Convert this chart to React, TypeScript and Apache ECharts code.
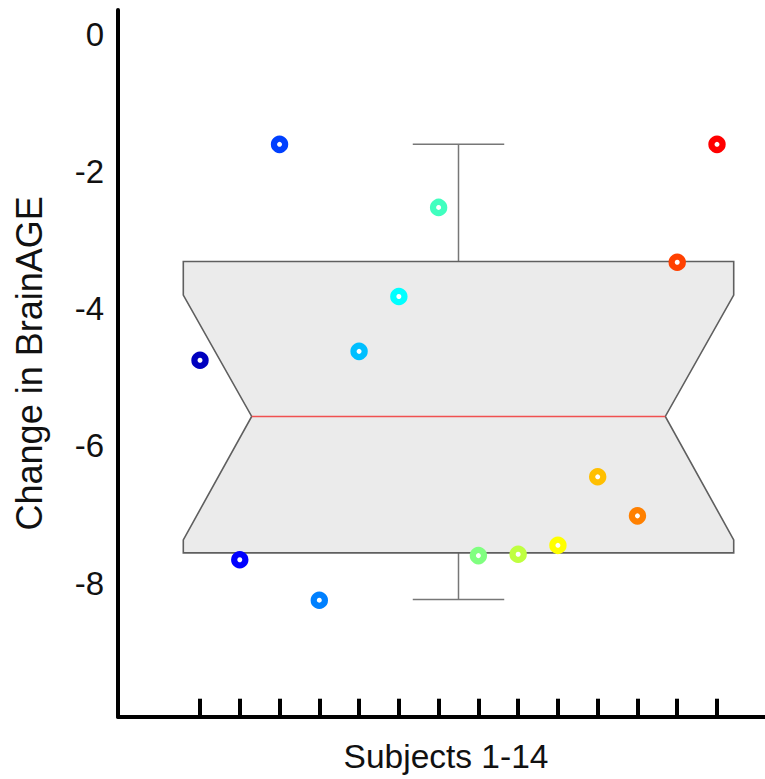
import React, { useEffect, useRef } from "react";
import * as echarts from "echarts";

const subjects = [1, 2, 3, 4, 5, 6, 7, 8, 9, 10, 11, 12, 13, 14];
const changeValues = [-4.75, -7.66, -1.6, -8.25, -4.62, -3.82, -2.52, -7.6, -7.58, -7.45, -6.45, -7.02, -3.32, -1.6];
const subjectColors = [
  "#0000bf", "#0000ff", "#0040ff", "#0080ff", "#00bfff", "#00ffff", "#40ffbf",
  "#80ff80", "#bfff40", "#ffff00", "#ffbf00", "#ff8000", "#ff4000", "#ff0000",
];
const yTickValues = [0, -2, -4, -6, -8];
// [center, whiskerLow, q1, notchLow, median, notchHigh, q3, whiskerHigh]
const boxValues = [7.5, -8.24, -7.56, -7.37, -5.57, -3.8, -3.31, -1.6];

const BOX_HALF = 6.92;
const NOTCH_HALF = 5.2;
const CAP_HALF = 1.15;

export default function App() {
  const ref = useRef<HTMLDivElement>(null);
  useEffect(() => {
    if (!ref.current) return;
    const chart = echarts.init(ref.current, null, { renderer: "svg" });
    const font = "'Liberation Sans', Arial, sans-serif";
    chart.setOption({
      animation: false,
      backgroundColor: "#ffffff",
      grid: {
        left: 118,
        right: 0,
        top: 10,
        bottom: 62.3,
        containLabel: false,
        outerBoundsMode: "none",
      },
      xAxis: {
        type: "value",
        min: -1.062,
        max: 15.207,
        name: "Subjects 1-14",
        nameLocation: "middle",
        nameGap: 23,
        nameTextStyle: { fontSize: 33.5, color: "#111", fontFamily: font, padding: [0, 0, 0, 9] },
        axisLine: { show: true, onZero: false, lineStyle: { color: "#000", width: 4 } },
        axisTick: {
          show: true,
          inside: true,
          length: 18,
          customValues: subjects,
          lineStyle: { color: "#000", width: 4 },
        },
        axisLabel: { show: false },
        splitLine: { show: false },
      },
      yAxis: {
        type: "value",
        min: -9.95,
        max: 0.36,
        name: "Change in BrainAGE",
        nameLocation: "middle",
        nameRotate: 90,
        nameGap: 70.5,
        nameTextStyle: { fontSize: 36, color: "#111", fontFamily: font },
        axisLine: { show: true, onZero: false, lineStyle: { color: "#000", width: 4 } },
        axisTick: { show: false },
        axisLabel: {
          customValues: yTickValues,
          fontSize: 33,
          color: "#111",
          fontFamily: font,
          margin: 14,
        },
        splitLine: { show: false },
      },
      series: [
        {
          type: "custom",
          data: [boxValues],
          encode: { x: 0, y: [1, 7] },
          z: 1,
          renderItem: (params: any, api: any) => {
            const c = api.value(0);
            const wl = api.value(1);
            const q1 = api.value(2);
            const nl = api.value(3);
            const med = api.value(4);
            const nh = api.value(5);
            const q3 = api.value(6);
            const wh = api.value(7);
            const P = (x: number, y: number) => api.coord([x, y]);
            const pts = [
              P(c - BOX_HALF, q3), P(c + BOX_HALF, q3), P(c + BOX_HALF, nh), P(c + NOTCH_HALF, med),
              P(c + BOX_HALF, nl), P(c + BOX_HALF, q1), P(c - BOX_HALF, q1), P(c - BOX_HALF, nl),
              P(c - NOTCH_HALF, med), P(c - BOX_HALF, nh),
            ];
            const line = (a: number[], b: number[], color: string, w: number) => ({
              type: "line",
              shape: { x1: a[0], y1: a[1], x2: b[0], y2: b[1] },
              style: { stroke: color, lineWidth: w },
            });
            const wc = "#777777";
            return {
              type: "group",
              children: [
                line(P(c, q3), P(c, wh), wc, 1.5),
                line(P(c - CAP_HALF, wh), P(c + CAP_HALF, wh), wc, 1.5),
                line(P(c, q1), P(c, wl), wc, 1.5),
                line(P(c - CAP_HALF, wl), P(c + CAP_HALF, wl), wc, 1.5),
                {
                  type: "polygon",
                  shape: { points: pts },
                  style: { fill: "#ebebeb", stroke: "#5f5f5f", lineWidth: 1.6 },
                },
                line(P(c - NOTCH_HALF, med), P(c + NOTCH_HALF, med), "#f05050", 1.5),
              ],
            };
          },
        },
        {
          type: "scatter",
          z: 3,
          symbol: "circle",
          symbolSize: 11.2,
          data: subjects.map((s, i) => ({
            value: [s, changeValues[i]],
            itemStyle: {
              color: "#ffffff",
              borderColor: subjectColors[i],
              borderWidth: 6.2,
              opacity: 1,
            },
          })),
        },
      ],
    });
    return () => chart.dispose();
  }, []);
  return (
    <div
      ref={ref}
      style={{ position: "absolute", left: 0, top: 0, width: 765, height: 779 }}
    />
  );
}
